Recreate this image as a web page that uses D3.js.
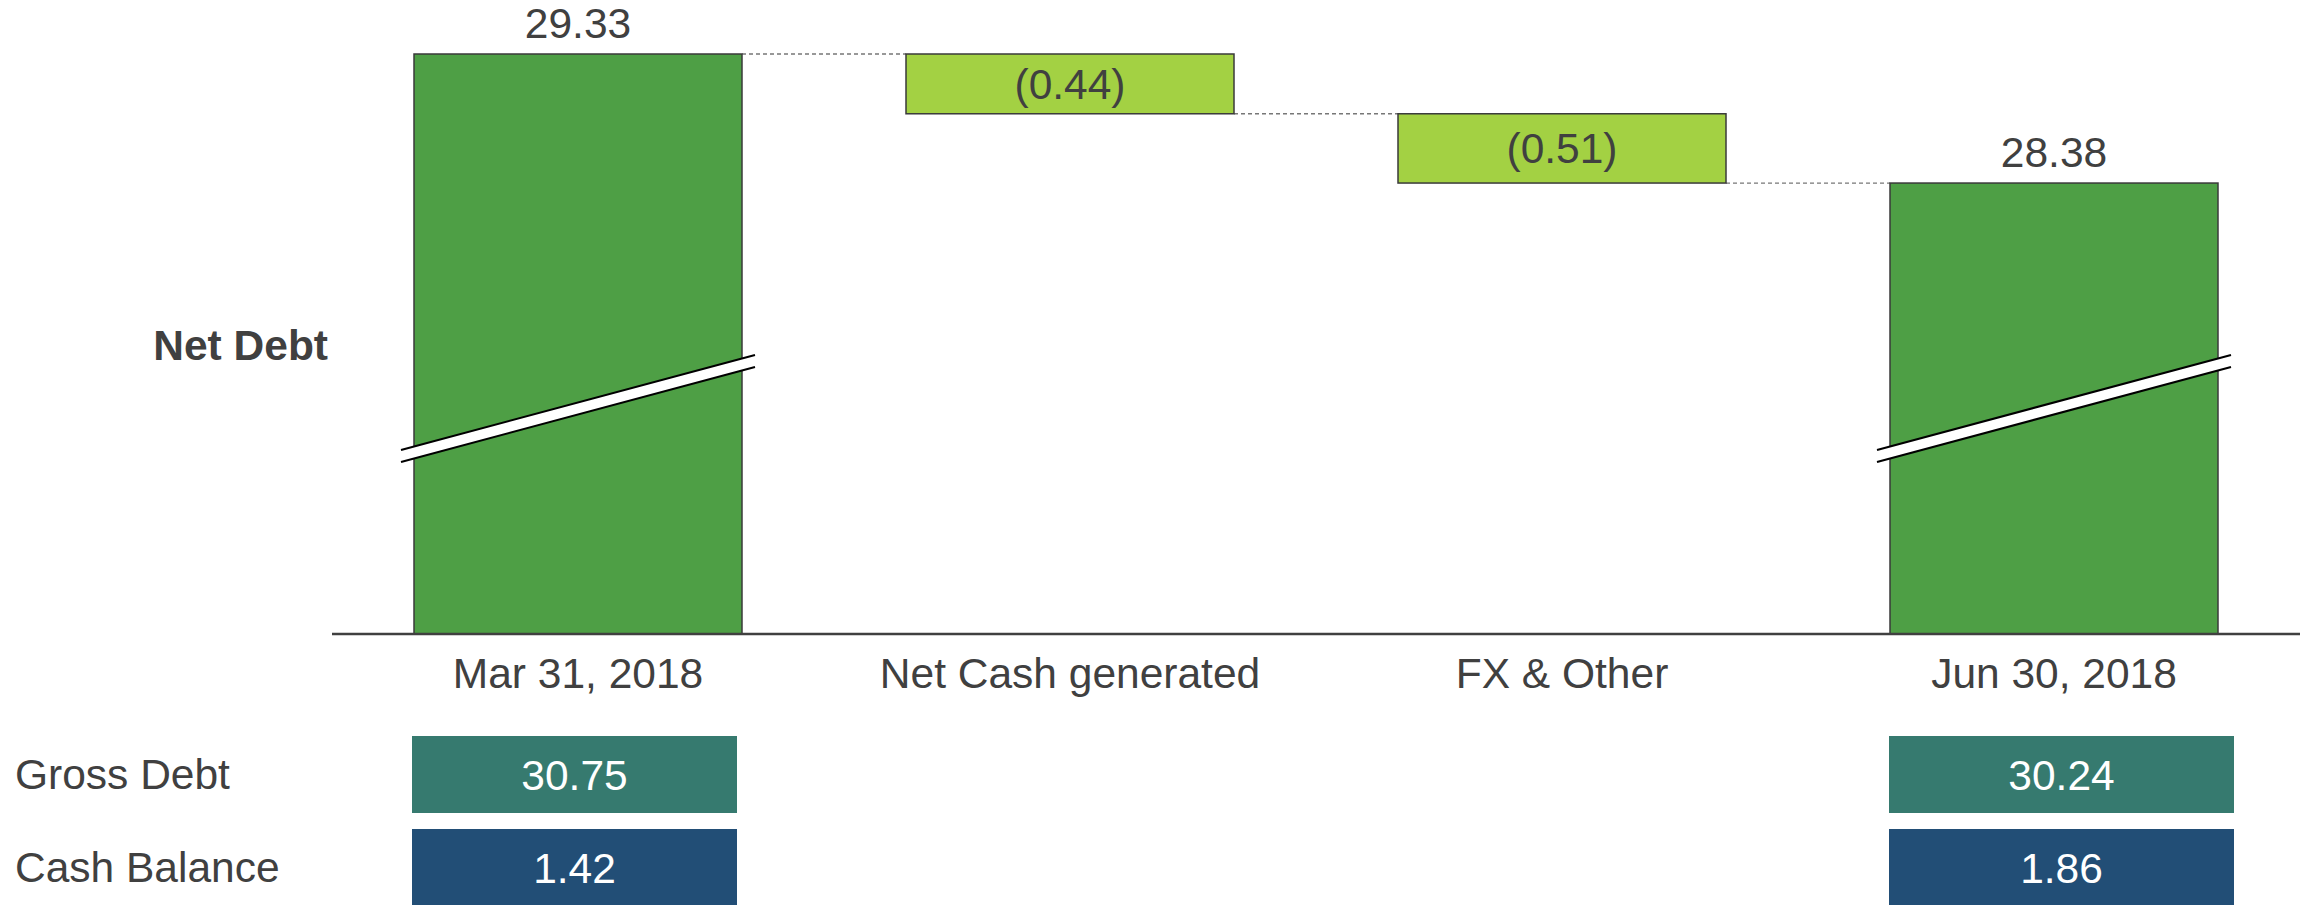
<!DOCTYPE html>
<html>
<head>
<meta charset="utf-8">
<script src="https://cdn.jsdelivr.net/npm/d3@7"></script>
<style>
  html, body { margin: 0; padding: 0; background: #fff; }
  svg { display: block; font-family: "Liberation Sans", Arial, sans-serif; }
</style>
</head>
<body>
<div id="chart"></div>
<script>
(function () {
  'use strict';

  // data
  var categories = ['Mar 31, 2018', 'Net Cash generated', 'FX & Other', 'Jun 30, 2018'];
  var barKinds = ['total', 'delta', 'delta', 'total'];
  var barValues = [29.33, -0.44, -0.51, 28.38];
  var rowLabels = ['Gross Debt', 'Cash Balance'];
  var grossDebt = [30.75, null, null, 30.24];
  var cashBalance = [1.42, null, null, 1.86];

  var WIDTH = 2312;
  var HEIGHT = 905;
  var BASE = 634;
  var TEXT = '#404040';
  var FS = 42.5;

  var COLORS = {
    total: '#4e9f45',
    delta: '#a3d143',
    gross: '#367a6f',
    cash: '#224e76'
  };

  var svg = d3.select('#chart').append('svg')
    .attr('width', WIDTH)
    .attr('height', HEIGHT);

  var x = d3.scaleBand()
    .domain(categories)
    .range([414, 2218])
    .paddingInner(1 / 3)
    .paddingOuter(0);

  // broken axis: only the top part of the range is shown
  var y = d3.scaleLinear()
    .domain([25.06, 29.33])
    .range([BASE, 54]);

  // build waterfall segments
  var running = 0;
  var bars = categories.map(function (c, i) {
    var v = barValues[i];
    var b;
    if (barKinds[i] === 'total') {
      running = v;
      b = { cat: c, kind: 'total', top: v, bottom: y.domain()[0], value: v, end: v };
    } else {
      var start = running;
      running = start + v;
      b = { cat: c, kind: 'delta', top: Math.max(start, running), bottom: Math.min(start, running), value: v, end: running };
    }
    return b;
  });

  function fmt(v) {
    return v < 0 ? '(' + d3.format('.2f')(-v) + ')' : d3.format('.2f')(v);
  }

  // connectors
  svg.append('g').selectAll('line')
    .data(bars.slice(0, -1))
    .join('line')
    .attr('x1', function (d) { return x(d.cat) + x.bandwidth(); })
    .attr('x2', function (d, i) { return x(bars[i + 1].cat); })
    .attr('y1', function (d) { return y(d.end); })
    .attr('y2', function (d) { return y(d.end); })
    .attr('stroke', '#777')
    .attr('stroke-width', 1.3)
    .attr('stroke-dasharray', '4,3');

  // bars
  svg.append('g').selectAll('rect')
    .data(bars)
    .join('rect')
    .attr('x', function (d) { return x(d.cat); })
    .attr('y', function (d) { return y(d.top); })
    .attr('width', x.bandwidth())
    .attr('height', function (d) { return y(d.bottom) - y(d.top); })
    .attr('fill', function (d) { return COLORS[d.kind]; })
    .attr('stroke', '#3a3a3a')
    .attr('stroke-width', 1.5);

  // break marks on the total bars
  var breaks = svg.append('g').selectAll('g')
    .data(bars.filter(function (d) { return d.kind === 'total'; }))
    .join('g')
    .attr('transform', function (d) { return 'translate(' + x(d.cat) + ',' + BASE + ')'; });

  var bw = x.bandwidth();
  breaks.append('path')
    .attr('d', 'M-13,-184 L' + (bw + 13) + ',-279 L' + (bw + 13) + ',-267 L-13,-172 Z')
    .attr('fill', '#fff');
  breaks.append('path')
    .attr('d', 'M-13,-184 L' + (bw + 13) + ',-279 M-13,-172 L' + (bw + 13) + ',-267')
    .attr('fill', 'none')
    .attr('stroke', '#000')
    .attr('stroke-width', 2);

  // value labels
  svg.append('g').selectAll('text')
    .data(bars)
    .join('text')
    .attr('x', function (d) { return x(d.cat) + bw / 2; })
    .attr('y', function (d) {
      return d.kind === 'total' ? y(d.top) - 16 : (y(d.top) + y(d.bottom)) / 2 + 15;
    })
    .attr('text-anchor', 'middle')
    .attr('font-size', FS)
    .attr('fill', TEXT)
    .text(function (d) { return fmt(d.value); });

  // axis
  svg.append('line')
    .attr('x1', 332).attr('x2', 2300)
    .attr('y1', BASE).attr('y2', BASE)
    .attr('stroke', TEXT)
    .attr('stroke-width', 2.5);

  var xAxis = d3.axisBottom(x).tickSize(0).tickPadding(0);
  var axisG = svg.append('g')
    .attr('transform', 'translate(0,' + BASE + ')')
    .call(xAxis);
  axisG.select('.domain').remove();
  axisG.selectAll('text')
    .attr('dy', null)
    .attr('y', 54)
    .attr('font-size', FS)
    .attr('font-family', '"Liberation Sans", Arial, sans-serif')
    .attr('fill', TEXT);

  // row title
  svg.append('text')
    .attr('x', 328)
    .attr('y', 360)
    .attr('text-anchor', 'end')
    .attr('font-size', FS)
    .attr('font-weight', 'bold')
    .attr('fill', TEXT)
    .text('Net Debt');

  // bottom table
  var rows = [
    { label: rowLabels[0], values: grossDebt, color: COLORS.gross, top: 736, h: 77 },
    { label: rowLabels[1], values: cashBalance, color: COLORS.cash, top: 829, h: 80 }
  ];
  var boxPad = [[-2, -5], null, null, [-1, 16]];

  rows.forEach(function (r) {
    svg.append('text')
      .attr('x', 15)
      .attr('y', r.top + 53)
      .attr('font-size', FS)
      .attr('fill', TEXT)
      .text(r.label);

    var cells = categories.map(function (c, i) {
      return { cat: c, v: r.values[i], pad: boxPad[i] };
    }).filter(function (d) { return d.v !== null; });

    var g = svg.append('g').selectAll('g')
      .data(cells)
      .join('g');

    g.append('rect')
      .attr('x', function (d) { return x(d.cat) + d.pad[0]; })
      .attr('y', r.top)
      .attr('width', function (d) { return bw - d.pad[0] + d.pad[1]; })
      .attr('height', r.h)
      .attr('fill', r.color);

    g.append('text')
      .attr('x', function (d) { return x(d.cat) + (d.pad[0] + bw + d.pad[1]) / 2; })
      .attr('y', r.top + 54)
      .attr('text-anchor', 'middle')
      .attr('font-size', FS)
      .attr('fill', '#fff')
      .text(function (d) { return d3.format('.2f')(d.v); });
  });
})();
</script>
</body>
</html>
